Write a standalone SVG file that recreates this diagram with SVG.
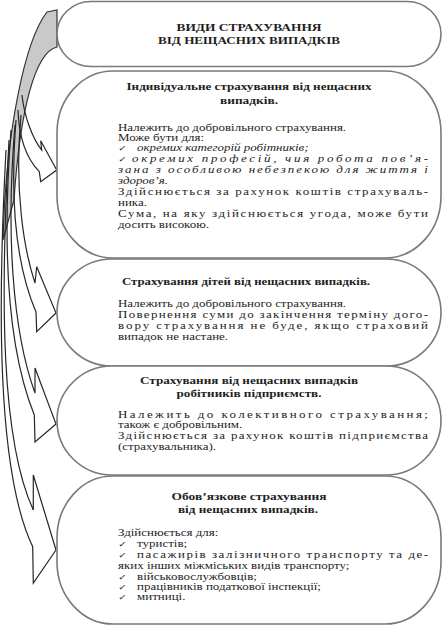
<svg xmlns="http://www.w3.org/2000/svg" width="444" height="631" viewBox="0 0 444 631">
<style>
.node{fill:#fff;stroke:#7a7a7a;stroke-width:1.6}
.t{font-family:"Liberation Serif","Times New Roman",serif;font-size:9.6px;fill:#1e1e1e}
.b{font-weight:bold}
.i{font-style:italic}
.c{text-anchor:middle}
.h{font-size:10.2px}
.ck{font-family:"DejaVu Sans",sans-serif;font-size:8px;fill:#1e1e1e}
.arr{fill:none;stroke:#262626;stroke-width:1.2;stroke-linejoin:miter}
.band{fill:#c9c9c9;stroke:#333;stroke-width:1.2}
</style>
<rect width="444" height="631" fill="#fff"/>
<g id="connectors">
<path class="band" d="M47,12 L57,10 L57,47 C35,52 20,110 14,200 L3,240 C6,130 25,40 47,12 Z"/>
<path class="arr" d="M22,95 C24,115 32,138 41.7,150 L40.7,140.7 L56.7,170 L40.7,181.7 L39.3,171.7 C28,160 19,140 18,110"/>
<path class="arr" d="M21,115 C14,190 24,250 35,283 L36.7,266.7 L56,313 L36.7,331.7 L36,312 C18,270 9,210 16,120"/>
<path class="arr" d="M15,125 C6,230 12,330 35,393 L35,368 L56,424 L35,442 L34.3,415 C8,350 2,250 11,130"/>
<path class="arr" d="M9,140 C0,300 1,440 33.3,510 L33.3,475 L56,550 L33.3,583 L32.7,546.7 C-4,470 -2,300 6,150"/>
</g>
<g id="node-title">
<rect class="node" x="57" y="1.5" width="384" height="65" rx="34" ry="32.5"/>
<text class="t b c" x="249" y="30.5" font-size="11.5" textLength="145" lengthAdjust="spacingAndGlyphs">ВИДИ СТРАХУВАННЯ</text>
<text class="t b c" x="249" y="44" font-size="11.5" textLength="182" lengthAdjust="spacingAndGlyphs">ВІД НЕЩАСНИХ ВИПАДКІВ</text>
</g>
<g id="node-individual">
<rect class="node" x="57" y="71" width="384" height="187" rx="56" ry="62"/>
<text class="t b c h" x="249" y="90" textLength="245" lengthAdjust="spacingAndGlyphs">Індивідуальне страхування від нещасних</text>
<text class="t b c h" x="249" y="103.5" textLength="58" lengthAdjust="spacingAndGlyphs">випадків.</text>
<g transform="translate(118,0) scale(1.35,1)">
<text class="t" x="0" y="131">Належить до добровільного страхування.</text>
<text class="t" x="0" y="141">Може бути для:</text>
<text class="ck" x="0" y="151">✓</text>
<text class="t i" x="14.1" y="151">окремих категорій робітників;</text>
<text class="ck" x="0" y="162.5">✓</text>
<text class="t i" x="10.4" y="162.5" textLength="219.3" lengthAdjust="spacing">окремих професій, чия робота пов’я-</text>
<text class="t i" x="0" y="173.5" textLength="229.6" lengthAdjust="spacing">зана з особливою небезпекою для життя і</text>
<text class="t i" x="0" y="184">здоров’я.</text>
<text class="t" x="0" y="195.5" textLength="229.6" lengthAdjust="spacing">Здійснюється за рахунок коштів страхуваль-</text>
<text class="t" x="0" y="206">ника.</text>
<text class="t" x="0" y="217" textLength="229.6" lengthAdjust="spacing">Сума, на яку здійснюється угода, може бути</text>
<text class="t" x="0" y="228">досить високою.</text>
</g>
</g>
<g id="node-children">
<rect class="node" x="57" y="259" width="384" height="107" rx="55" ry="53.5"/>
<text class="t b c h" x="246" y="285" textLength="248" lengthAdjust="spacingAndGlyphs">Страхування дітей від нещасних випадків.</text>
<g transform="translate(118,0) scale(1.35,1)">
<text class="t" x="0" y="307">Належить до добровільного страхування.</text>
<text class="t" x="0" y="318" textLength="229.6" lengthAdjust="spacing">Повернення суми до закінчення терміну дого-</text>
<text class="t" x="0" y="329" textLength="229.6" lengthAdjust="spacing">вору страхування не буде, якщо страховий</text>
<text class="t" x="0" y="340">випадок не настане.</text>
</g>
</g>
<g id="node-workers">
<rect class="node" x="57" y="366" width="384" height="109" rx="55" ry="54.5"/>
<text class="t b c h" x="249" y="384" textLength="218" lengthAdjust="spacingAndGlyphs">Страхування від нещасних випадків</text>
<text class="t b c h" x="249" y="397" textLength="145" lengthAdjust="spacingAndGlyphs">робітників підприємств.</text>
<g transform="translate(118,0) scale(1.35,1)">
<text class="t" x="0" y="418" textLength="229.6" lengthAdjust="spacing">Належить до колективного страхування;</text>
<text class="t" x="0" y="428.5">також є добровільним.</text>
<text class="t" x="0" y="439" textLength="229.6" lengthAdjust="spacing">Здійснюється за рахунок коштів підприємства</text>
<text class="t" x="0" y="450">(страхувальника).</text>
</g>
</g>
<g id="node-mandatory">
<rect class="node" x="57" y="476" width="384" height="148" rx="56" ry="62"/>
<text class="t b c h" x="249" y="500" textLength="155" lengthAdjust="spacingAndGlyphs">Обов’язкове страхування</text>
<text class="t b c h" x="248" y="513" textLength="140" lengthAdjust="spacingAndGlyphs">від нещасних випадків.</text>
<g transform="translate(118,0) scale(1.35,1)">
<text class="t" x="0" y="536">Здійснюється для:</text>
<text class="ck" x="0" y="547">✓</text>
<text class="t" x="14.1" y="547">туристів;</text>
<text class="ck" x="0" y="558">✓</text>
<text class="t" x="14.1" y="558" textLength="215.6" lengthAdjust="spacing">пасажирів залізничного транспорту та де-</text>
<text class="t" x="0" y="569">яких інших міжміських видів транспорту;</text>
<text class="ck" x="0" y="580">✓</text>
<text class="t" x="14.1" y="580">військовослужбовців;</text>
<text class="ck" x="0" y="590">✓</text>
<text class="t" x="14.1" y="590">працівників податкової інспекції;</text>
<text class="ck" x="0" y="600">✓</text>
<text class="t" x="14.1" y="600">митниці.</text>
</g>
</g>
</svg>
